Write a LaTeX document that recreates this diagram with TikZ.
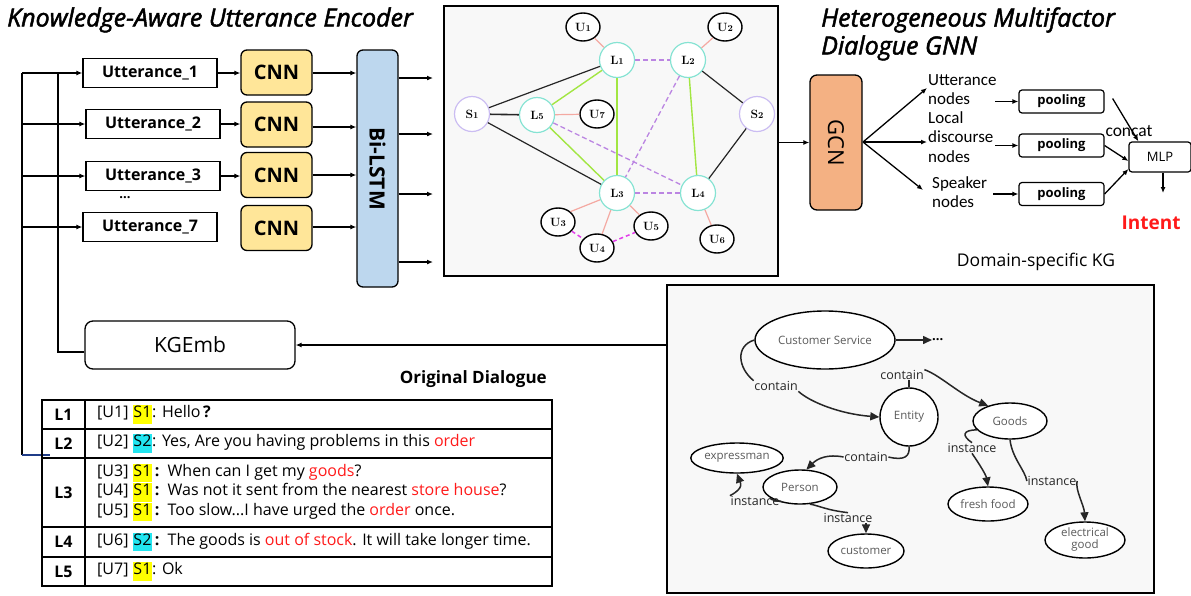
\documentclass[tikz,border=0pt]{standalone}
\usepackage{fontspec}
\setmainfont{Open Sans}
\newfontfamily\calfont{Carlito}
\newfontfamily\lmfont{Latin Modern Roman}
\newfontfamily\titlefont{Open Sans}[ItalicFeatures={FakeBold=2}]
\usetikzlibrary{arrows.meta,calc,shapes.geometric}

\definecolor{cnnY}{HTML}{FFE699}
\definecolor{lstmB}{HTML}{BDD7EE}
\definecolor{gcnO}{HTML}{F4B183}
\definecolor{tealC}{HTML}{86E3D3}
\definecolor{lavC}{HTML}{CBBDF2}
\definecolor{salm}{HTML}{F4A9A2}
\definecolor{greenE}{HTML}{A2E642}
\definecolor{purpD}{HTML}{BB85E2}
\definecolor{magD}{HTML}{E23CEA}
\definecolor{panel}{HTML}{F8F8F8}
\definecolor{navyL}{HTML}{1F3C88}
\definecolor{redT}{HTML}{FF1A1A}
\definecolor{hlY}{HTML}{FFFF00}
\definecolor{hlC}{HTML}{22E5F0}
\definecolor{kgtext}{HTML}{5A5A5A}

\newcommand{\hlS}[2]{{\setlength{\fboxsep}{0.8pt}\colorbox{#1}{\strut #2}}}
\newcommand{\rd}[1]{\textcolor{redT}{#1}}
\newcommand{\gl}[2]{{\lmfont\bfseries\fontsize{12}{12}\selectfont #1{\fontsize{9}{9}\selectfont #2}}}

\begin{document}
\begin{tikzpicture}[x=1pt,y=-1pt,
  wire/.style={line width=1.3pt},
  arr/.style={wire,-{Latex[length=6pt,width=5pt]}},
  uttbox/.style={draw,line width=1.3pt,minimum width=134pt,minimum height=29pt,inner sep=0pt,
    font=\fontsize{16}{18}\selectfont\bfseries},
  cnnbox/.style={draw,line width=1.3pt,rounded corners=6pt,fill=cnnY,minimum width=71pt,
    minimum height=45pt,inner sep=0pt,font=\fontsize{20}{22}\selectfont\bfseries},
  poolbox/.style={draw,line width=1.2pt,rounded corners=3pt,minimum width=85pt,minimum height=23pt,
    inner sep=0pt,font=\fontsize{13}{14}\selectfont\bfseries},
  titlef/.style={font=\titlefont\fontsize{25}{27}\selectfont\itshape},
  sidetext/.style={align=left,anchor=north west,inner sep=0pt,font=\calfont\fontsize{17}{19.5}\selectfont},
  lnode/.style={circle,draw=tealC,line width=1.2pt,fill=white,minimum size=35pt,inner sep=0pt},
  snode/.style={circle,draw=lavC,line width=1.2pt,fill=white,minimum size=35pt,inner sep=0pt},
  unode/.style={ellipse,draw,line width=1.4pt,fill=white,minimum width=34pt,minimum height=28pt,inner sep=0pt},
  blk/.style={line width=1.2pt,black!85},
  grn/.style={line width=1.4pt,greenE},
  sal/.style={line width=1.2pt,salm},
  pdash/.style={line width=1.3pt,purpD,dash pattern=on 5pt off 3pt},
  mdash/.style={line width=1.5pt,magD,dash pattern=on 4pt off 3pt},
  kgnode/.style={ellipse,draw,line width=1.4pt,fill=white,inner sep=0pt,text=kgtext,
    font=\fontsize{11.5}{12.5}\selectfont},
  kglab/.style={inner sep=0.5pt,font=\fontsize{12.5}{13}\selectfont,text=black!85},
  kgline/.style={line width=1.5pt,black!85},
  kgarr/.style={kgline,-{Triangle[length=9pt,width=8pt]}}
]
\useasboundingbox (0,0) rectangle (1191,595);

% ---------- titles ----------
\node[titlef,anchor=west,inner sep=0pt] (t1) at (7,20) {Knowledge-Aware Utterance Encoder};
\node[titlef,anchor=west,inner sep=0pt] (t2) at (821,20) {Heterogeneous Multifactor};
\node[titlef,anchor=west,inner sep=0pt] (t3) at (821,48) {Dialogue GNN};

% ---------- utterance encoder ----------
\node[uttbox] (u1) at (150,73) {Utterance\_1};
\node[uttbox] (u2) at (153,124) {Utterance\_2};
\node[uttbox] (u3) at (153,176) {Utterance\_3};
\node[font=\bfseries\fontsize{13}{13}\selectfont,inner sep=0pt] (udots) at (125,198) {...};
\node[uttbox] (u7) at (150,227) {Utterance\_7};

\node[cnnbox] (c1) at (276.5,72.5) {CNN};
\node[cnnbox] (c2) at (276.5,124.5) {CNN};
\node[cnnbox] (c3) at (276.5,175) {CNN};
\node[cnnbox] (c4) at (276.5,228) {CNN};

\node[draw,line width=1.3pt,rounded corners=6pt,fill=lstmB,minimum width=41pt,minimum height=237pt,inner sep=0pt] (lstm) at (377.5,168.5) {};
\node[rotate=-90,font=\fontsize{21}{22}\selectfont\bfseries] (lstmtxt) at (lstm.center) {Bi-LSTM};

\draw[arr] (u1.east) -- (u1.east -| c1.west);
\draw[arr] (u2.east) -- (u2.east -| c2.west);
\draw[arr] (u3.east) -- (u3.east -| c3.west);
\foreach \c/\yy in {c1/73,c2/127,c3/175,c4/227}{
  \draw[arr] (\c.east |- 0,\yy) -- (lstm.west |- 0,\yy);
}
\foreach \k/\yy in {1/78,2/134,3/194,4/262}{
  \coordinate (lo\k) at (433,\yy);
  \draw[arr] (lstm.east |- lo\k) -- (lo\k);
}

% ---------- feedback rails ----------
\node[draw,line width=1.3pt,rounded corners=8pt,minimum width=210pt,minimum height=48pt,
  font=\fontsize{21}{22}\selectfont] (kgemb) at (190,345) {KGEmb};
\coordinate (ra) at (22,73);
\coordinate (rb) at (58,73);
\coordinate (rbot) at (22,455);
\coordinate (rtab) at (50,455);
\draw[wire] (rbot) -- (ra);
\draw[arr] (ra) -- (u1.west);
\draw[wire] ([yshift=-7pt]kgemb.west) -| (rb);
\draw[arr] (ra |- u2.west) -- (u2.west);
\draw[arr] (ra |- u3.west) -- (u3.west);
\draw[arr] (ra |- u7.west) -- (u7.west);
\draw[line width=1.3pt,navyL] (rbot) -- (rtab);

% ---------- dialogue table ----------
\node[font=\fontsize{17}{18}\selectfont\bfseries,anchor=east,inner sep=0pt] (odl) at (547,379) {Original Dialogue};
\draw[line width=1.4pt] (42,400) rectangle (552,586);
\foreach \yy in {429,458,527,557} \draw[line width=1.4pt] (42,\yy) -- (552,\yy);
\draw[line width=1.4pt] (85,400) -- (85,586);
\begin{scope}[every node/.style={inner sep=0pt,font=\fontsize{16}{17}\selectfont}]
\node[font=\fontsize{16}{17}\selectfont\bfseries] (rl1) at (63.5,414.5) {L1};
\node[font=\fontsize{16}{17}\selectfont\bfseries] (rl2) at (63.5,443.5) {L2};
\node[font=\fontsize{16}{17}\selectfont\bfseries] (rl3) at (63.5,492.5) {L3};
\node[font=\fontsize{16}{17}\selectfont\bfseries] (rl4) at (63.5,542) {L4};
\node[font=\fontsize{16}{17}\selectfont\bfseries] (rl5) at (63.5,571.5) {L5};
\node[anchor=west] (d1) at (97,414.5) {[U1] \hlS{hlY}{S1}: Hello\,\textbf{?}};
\node[anchor=west] (d2) at (97,443.5) {[U2] \hlS{hlC}{S2}: Yes, Are you having problems in this \rd{order}};
\node[anchor=west] (d3) at (97,473) {[U3] \hlS{hlY}{S1}\,\textbf{:}\, When can I get my \rd{goods}?};
\node[anchor=west] (d4) at (97,492.5) {[U4] \hlS{hlY}{S1}\,\textbf{:}\, Was not it sent from the nearest \rd{store house}?};
\node[anchor=west] (d5) at (97,512) {[U5] \hlS{hlY}{S1}\,\textbf{:}\, Too slow...I have urged the \rd{order} once.};
\node[anchor=west] (d6) at (97,542) {[U6] \hlS{hlC}{S2}\,\textbf{:}\, The goods is \rd{out of stock}. It will take longer time.};
\node[anchor=west] (d7) at (97,571.5) {[U7] \hlS{hlY}{S1}: Ok};
\end{scope}

% ---------- dialogue graph ----------
\node[draw,line width=2.6pt,fill=panel,minimum width=334pt,minimum height=270pt,inner sep=0pt] (gbox) at (611,141) {};
\node[lnode] (L1) at (617,60) {\gl{L}{1}};
\node[lnode] (L2) at (688,60) {\gl{L}{2}};
\node[lnode] (L5) at (537,115) {\gl{L}{5}};
\node[lnode] (L3) at (617,193) {\gl{L}{3}};
\node[lnode] (L4) at (698,193) {\gl{L}{4}};
\node[snode] (S1) at (472,114) {\gl{S}{1}};
\node[snode] (S2) at (757,114) {\gl{S}{2}};
\node[unode] (U1) at (583,27) {\gl{U}{1}};
\node[unode] (U2) at (725,27) {\gl{U}{2}};
\node[unode] (U7) at (597,114) {\gl{U}{7}};
\node[unode] (U3) at (558,222) {\gl{U}{3}};
\node[unode] (U5) at (651,226) {\gl{U}{5}};
\node[unode] (U4) at (597,248) {\gl{U}{4}};
\node[unode] (U6) at (717,239) {\gl{U}{6}};
% edges end on the node borders
\draw[blk] (S1) -- (L1);
\draw[blk,line width=1.6pt] (S1) -- (L5);
\draw[blk] (S1) -- (L3);
\draw[blk] (L2) -- (S2);
\draw[blk] (S2) -- (L4);
\draw[grn] (L1) -- (L5);
\draw[grn] (L1) -- (L3);
\draw[grn] (L5) -- (L3);
\draw[grn] (L2) -- (L4);
\draw[pdash] (L1) -- (L2);
\draw[pdash] (L2) -- (L3);
\draw[pdash] (L5) -- (L4);
\draw[pdash] (L3) -- (L4);
\draw[sal] (U1) -- (L1);
\draw[sal] (U2) -- (L2);
\draw[sal] (L5) -- (U7);
\draw[sal] (L3) -- (U3.north east);
\draw[sal] (L3) -- (U4);
\draw[sal] (L3) -- (U5);
\draw[sal] (L4) -- (U6);
\draw[mdash] (U3) -- (U4);
\draw[mdash] (U4) -- (U5);

% ---------- GNN head ----------
\node[draw,line width=1.3pt,rounded corners=7pt,fill=gcnO,minimum width=52pt,minimum height=135pt,inner sep=0pt] (gcn) at (836,142.5) {};
\node[rotate=-90,font=\fontsize{22}{24}\selectfont] (gcntxt) at (gcn.center) {GCN};
\draw[arr] (gbox.east |- gcn.west) -- (gcn.west);

\node[sidetext] (nu) at (928,74) {Utterance\\nodes};
\node[sidetext] (nl) at (928,111) {Local\\discourse\\nodes};
\node[sidetext] (ns) at (932,176) {Speaker\\nodes};
\coordinate (g0) at (863,142);
\draw[arr] (g0) -- (927,88);
\draw[arr] (g0) -- (927,142);
\draw[arr] (g0) -- (923,190);

\node[poolbox] (p1) at (1061.5,101.5) {pooling};
\node[poolbox] (p2) at (1061.5,145.5) {pooling};
\node[poolbox] (p3) at (1061.5,194) {pooling};
\draw[arr] (995,101.5) -- (p1.west);
\draw[arr] (995,145.5) -- (p2.west);
\draw[arr] (993,194) -- (p3.west);

\node[draw,line width=1.2pt,rounded corners=3pt,minimum width=62pt,minimum height=30pt,inner sep=0pt,
  font=\fontsize{13}{14}\selectfont] (mlp) at (1160,157) {MLP};
\node[font=\calfont\fontsize{17.5}{18}\selectfont,inner sep=0pt] (concat) at (1129,131) {concat};
\draw[arr] ($(p1.east)+(8,-3)$) -- ([xshift=10pt]mlp.north west);
\draw[arr] (p2.east) -- ([yshift=-4pt]mlp.west);
\draw[arr] (p3.east) -- ([yshift=-12pt]mlp.west);
\node[font=\fontsize{19}{20}\selectfont\bfseries,text=redT,inner sep=0pt] (intent) at (1151,223) {Intent};
\draw[arr] (mlp.south -| 1163,0) -- (1163,193);
\node[font=\fontsize{17.5}{18}\selectfont,inner sep=0pt] (dkg) at (1036,262) {Domain-specific KG};

% ---------- knowledge graph ----------
\node[draw,line width=2.6pt,fill=panel,minimum width=487pt,minimum height=308pt,inner sep=0pt] (kgbox) at (910.5,439) {};
\draw[arr] (kgbox.west |- kgemb.east) -- (kgemb.east);

\node[kgnode,minimum width=140pt,minimum height=58pt] (cs) at (825,340) {Customer Service};
\node[kgnode,circle,minimum size=58pt] (ent) at (909,417) {Entity};
\node[kgnode,minimum width=74pt,minimum height=36pt] (goods) at (1010,421) {Goods};
\node[kgnode,minimum width=86pt,minimum height=30pt] (expr) at (737,458) {expressman};
\node[kgnode,minimum width=74pt,minimum height=34pt] (person) at (800,487) {Person};
\node[kgnode,minimum width=76pt,minimum height=34pt] (cust) at (866,551) {customer};
\node[kgnode,minimum width=80pt,minimum height=34pt] (fresh) at (988,504) {fresh food};
\node[kgnode,minimum width=80pt,minimum height=36pt,align=center,font=\fontsize{11.5}{12}\selectfont] (elec) at (1085,540) {electrical\\good};
\node[font=\bfseries\fontsize{13}{13}\selectfont,inner sep=0pt,anchor=west] (more) at (932,340) {...};

\node[kglab] (k1) at (776,386) {contain};
\node[kglab] (k2) at (902,375) {contain};
\node[kglab] (k3) at (866,457) {contain};
\node[kglab] (k4) at (972,448) {instance};
\node[kglab] (k5) at (1052,481) {instance};
\node[kglab] (k6) at (755,501) {instance};
\node[kglab] (k7) at (848,518) {instance};

\draw[kgarr] (cs.east) -- (more.west);
\draw[kgline] (cs.west) .. controls (735,346) and (738,368) .. (k1.north west);
\draw[kgarr] (k1.south east) .. controls (810,402) and (840,414) .. (ent.west);
\draw[kgline] (ent.north) -- (k2.south -| ent.north);
\draw[kgarr] (k2.north east) .. controls (940,375) and (960,395) .. (goods.145);
\draw[kgline] (ent.south) .. controls (910,456) and (905,461) .. (k3.east);
\draw[kgarr] (k3.west) .. controls (828,454) and (818,458) .. (person.70);
\draw[kgline] (goods.195) .. controls (962,430) and (962,436) .. (k4.north);
\draw[kgarr] (k4.south) .. controls (980,465) and (986,475) .. (fresh.north);
\draw[kgline] (goods.south) .. controls (1012,458) and (1025,470) .. (k5.west);
\draw[kgarr] (k5.east) .. controls (1075,490) and (1084,505) .. (elec.north);
\draw[kgline] (person.205) .. controls (765,498) and (785,503) .. (k6.east);
\draw[kgarr] (k6.north west) .. controls (745,488) and (740,482) .. (expr.south);
\draw[kgline] (person.300) .. controls (820,506) and (826,510) .. (k7.north);
\draw[kgarr] (cust.north |- k7.south) -- (cust.north);
\end{tikzpicture}
\end{document}
